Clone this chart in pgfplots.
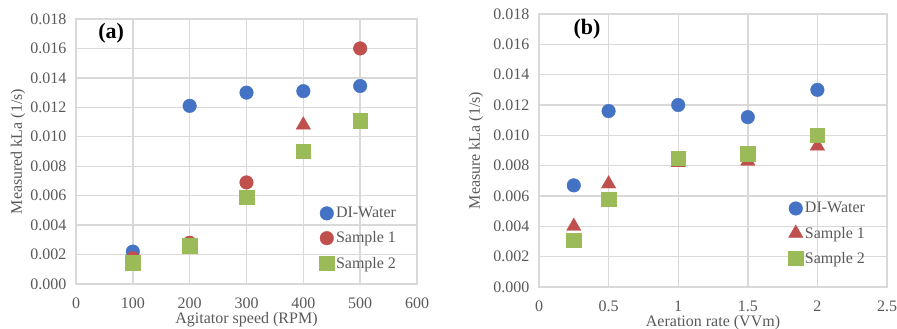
\documentclass[border=0pt]{standalone}
\usepackage{fontspec}
\setmainfont{Liberation Serif}
\usepackage{pgfplots}
\pgfplotsset{compat=1.18}
\definecolor{cblue}{HTML}{4472C4}
\definecolor{cred}{HTML}{C0504D}
\definecolor{cgreen}{HTML}{9BBB59}
\definecolor{cgrid}{HTML}{D9D9D9}
\definecolor{ctext}{HTML}{595959}
\newcommand\fs{\fontsize{16}{18}\selectfont}
\pgfplotsset{
  myaxis/.style={
    scale only axis,
    anchor=south west,
    grid=major,
    major grid style={draw=cgrid, line width=1.4pt},
    axis line style={draw=cgrid, line width=1.4pt},
    major tick length=0pt,
    tick label style={font=\fs, text=ctext},
    /pgf/number format/assume math mode=true,
    ymin=0, ymax=0.018,
    ytick={0,0.002,0.004,0.006,0.008,0.010,0.012,0.014,0.016,0.018},
    yticklabel style={/pgf/number format/.cd, fixed, fixed zerofill, precision=3, /tikz/.cd, xshift=-6pt},
    xticklabel style={yshift=-10pt},
    scaled y ticks=false,
    scaled x ticks=false,
    xlabel style={font=\fs, text=ctext, at={(axis description cs:0.5,0)}, anchor=center, yshift=-36pt},
    legend style={draw=none, fill=none, font=\fs, text=ctext, row sep=8.5pt, anchor=north west},
    legend cell align=left,
    only marks,
  },
  mblue/.style={mark=*, mark size=6.8pt, color=cblue, mark options={draw=cblue, fill=cblue}},
  mredc/.style={mark=*, mark size=6.8pt, color=cred, mark options={draw=cred, fill=cred}},
  mredt/.style={mark=triangle*, mark size=8.3pt, color=cred, mark options={draw=cred, fill=cred}},
  mgreen/.style={mark=square*, mark size=7.2pt, color=cgreen, mark options={draw=cgreen, fill=cgreen}},
}
\begin{document}
\begin{tikzpicture}
\useasboundingbox (0,0) rectangle (897pt,329pt);
\begin{axis}[myaxis, at={(76pt,45pt)}, width=341pt, height=265pt,
  xmin=0, xmax=600, xtick={0,100,200,300,400,500,600},
  xlabel={Agitator speed (RPM)},
  ylabel={Measured kLa (1/s)},
  ylabel style={font=\fs, text=ctext, at={(axis description cs:0,0.5)}, anchor=center, yshift=58pt},
  legend style={at={(rel axis cs:0.705,0.305)}}]
\addplot[mblue] coordinates {(100,0.0022)(200,0.0121)(300,0.0130)(400,0.0131)(500,0.01345)};
\addlegendentry{DI-Water}
\addplot[mredc] coordinates {(100,0.00175)(200,0.0028)(300,0.0069)(500,0.0160)};
\addlegendentry{Sample 1}
\addplot[mredt, forget plot] coordinates {(400,0.0108)};
\addplot[mgreen] coordinates {(100,0.00145)(200,0.0026)(300,0.0059)(400,0.0090)(500,0.0111)};
\addlegendentry{Sample 2}
\node[font=\fontsize{22}{24}\selectfont\bfseries, text=black] at (rel axis cs:0.103,0.947) {(a)};
\end{axis}
\begin{axis}[myaxis, at={(539pt,42pt)}, width=348pt, height=273pt,
  xmin=0, xmax=2.5, xtick={0,0.5,1,1.5,2,2.5},
  xlabel={Aeration rate (VVm)},
  ylabel={Measure kLa (1/s)},
  ylabel style={font=\fs, text=ctext, at={(axis description cs:0,0.5)}, anchor=center, yshift=63pt},
  legend style={at={(rel axis cs:0.708,0.325)}}]
\addplot[mblue] coordinates {(0.25,0.0067)(0.5,0.0116)(1,0.0120)(1.5,0.0112)(2,0.0130)};
\addlegendentry{DI-Water}
\addplot[mredt] coordinates {(0.25,0.0040)(0.5,0.0068)(1,0.0082)(1.5,0.0083)(2,0.0093)};
\addlegendentry{Sample 1}
\addplot[mgreen] coordinates {(0.25,0.0031)(0.5,0.0058)(1,0.0085)(1.5,0.0088)(2,0.0100)};
\addlegendentry{Sample 2}
\node[font=\fontsize{22}{24}\selectfont\bfseries, text=black] at (rel axis cs:0.138,0.945) {(b)};
\end{axis}
\end{tikzpicture}
\end{document}
